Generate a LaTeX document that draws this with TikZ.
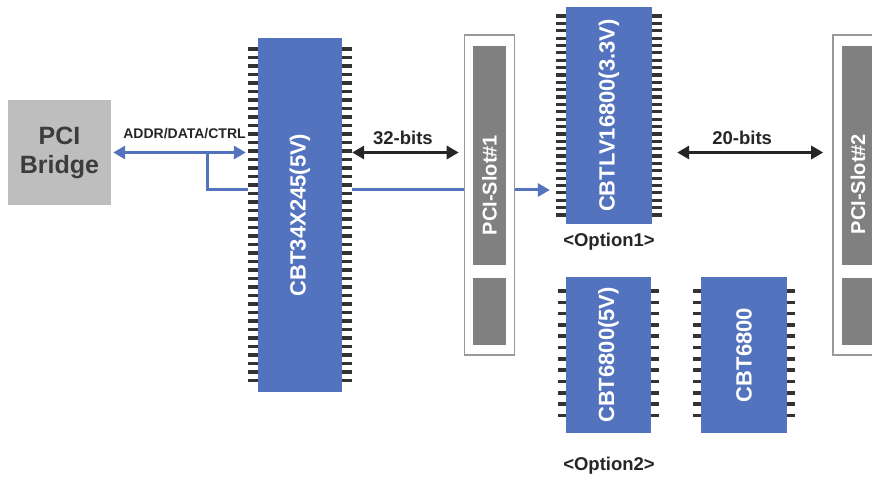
\documentclass[tikz,border=0pt]{standalone}
\usepackage{fontspec}
\setmainfont{Liberation Sans}
\usetikzlibrary{arrows.meta}

\definecolor{chipblue}{HTML}{5473BE}
\definecolor{bridgegray}{HTML}{BEBEBE}
\definecolor{slotgray}{HTML}{808080}
\definecolor{textgray}{HTML}{3C3C3C}

\tikzset{
  chip/.style={rectangle, fill=chipblue, draw=none, inner sep=0pt, text=white,
    font=\fontsize{22}{24}\selectfont\bfseries},
  pin/.style={fill=black!80, draw=none},
  slotframe/.style={rectangle, draw=slotgray!80, line width=1.6pt, fill=white, inner sep=0pt},
  slotbar/.style={rectangle, fill=slotgray, draw=none, inner sep=0pt},
  slottext/.style={text=white, inner sep=0pt, font=\fontsize{20}{22}\selectfont\bfseries},
  bus/.style={draw=chipblue, line width=3pt, -{Triangle[length=12pt,width=13pt]}},
  bits/.style={draw=black!85, line width=3pt, {Triangle[length=12pt,width=13pt]}-{Triangle[length=12pt,width=13pt]}},
  lbl/.style={font=\fontsize{14}{16}\selectfont\bfseries, text=black!85},
  bitlbl/.style={font=\fontsize{18.5}{20}\selectfont\bfseries, text=black!85},
  optlbl/.style={font=\fontsize{18.5}{20}\selectfont\bfseries, text=black!85}
}

\begin{document}
\begin{tikzpicture}[x=1pt,y=-1pt]
  \useasboundingbox (0,0) rectangle (872,478);

  % PCI bridge
  \node[rectangle, fill=bridgegray, minimum width=103pt, minimum height=105pt, align=center,
        text=textgray, font=\fontsize{25}{29}\selectfont\bfseries] (bridge) at (59.5,152.5) {PCI\\Bridge};

  % Chips with their pins
  \node[chip, minimum width=84pt, minimum height=354pt] (chipA) at (300,215) {\rotatebox{90}{CBT34X245(5V)}};
  \foreach \i in {0,...,39} {
    \fill[pin] (248,49+\i*8.5-1.8) rectangle (258,49+\i*8.5+1.8);
    \fill[pin] (342,49+\i*8.5-1.8) rectangle (352,49+\i*8.5+1.8);
  }

  \node[chip, minimum width=86pt, minimum height=217pt] (chipB) at (609,115.5) {\rotatebox{90}{CBTLV16800(3.3V)}};
  \foreach \i in {0,...,27} {
    \fill[pin] (556,16+\i*7.37-1.6) rectangle (566,16+\i*7.37+1.6);
    \fill[pin] (652,16+\i*7.37-1.6) rectangle (662,16+\i*7.37+1.6);
  }
  \node[optlbl] (opt1) at (609,242) {<Option1>};

  \node[chip, minimum width=85pt, minimum height=156pt] (chipC) at (608.5,355) {\rotatebox{90}{CBT6800(5V)}};
  \node[chip, minimum width=86pt, minimum height=156pt] (chipD) at (744,355) {\rotatebox{90}{CBT6800}};
  \foreach \i in {0,...,11} {
    \fill[pin] (558,291+\i*11.3-1.8) rectangle (566,291+\i*11.3+1.8);
    \fill[pin] (651,291+\i*11.3-1.8) rectangle (659,291+\i*11.3+1.8);
    \fill[pin] (693,291+\i*11.3-1.8) rectangle (701,291+\i*11.3+1.8);
    \fill[pin] (787,291+\i*11.3-1.8) rectangle (795,291+\i*11.3+1.8);
  }
  \node[optlbl] (opt2) at (609,466) {<Option2>};

  % PCI slots
  \node[slotframe, minimum width=50pt, minimum height=320pt] (slotA) at (489.5,195) {};
  \node[slotbar, minimum width=33pt, minimum height=219pt] (slotAtop) at (489.5,155.5) {};
  \node[slotbar, minimum width=33pt, minimum height=67pt] (slotAbot) at (489.5,311.5) {};
  \node[slottext] (slotAname) at (489.5,185) {\rotatebox{90}{PCI-Slot\#1}};

  \node[slotframe, minimum width=50pt, minimum height=320pt] (slotB) at (858,195) {};
  \node[slotbar, minimum width=33pt, minimum height=219pt] (slotBtop) at (858,155.5) {};
  \node[slotbar, minimum width=33pt, minimum height=67pt] (slotBbot) at (858,311.5) {};
  \node[slottext] (slotBname) at (858,184) {\rotatebox{90}{PCI-Slot\#2}};

  % Buses
  \coordinate (tap) at (207,152.5);
  \coordinate (busA) at (0,190);
  \draw[bus, {Triangle[length=12pt,width=13pt]}-{Triangle[length=12pt,width=13pt]}, shorten <=2pt, shorten >=12pt]
    (bridge.east) -- (bridge.east -| chipA.west) node[midway, above=9pt, lbl] {ADDR/DATA/CTRL};
  \draw[bus, -, shorten >=10pt] (tap) |- (chipA.west |- busA);
  \draw[bus, -, shorten <=10pt] (chipA.east |- busA) -- (slotA.west |- busA);
  \draw[bus, shorten >=16pt] (slotA.east |- busA) -- (chipB.west |- busA);

  \draw[bits, shorten <=10pt, shorten >=5pt] (chipA.east |- tap) -- (slotA.west |- tap)
    node[midway, above=3pt, bitlbl] {32-bits};
  \draw[bits, shorten <=25pt, shorten >=9pt] (chipB.east |- tap) -- (slotB.west |- tap)
    node[midway, above=3pt, bitlbl] {20-bits};
\end{tikzpicture}
\end{document}
